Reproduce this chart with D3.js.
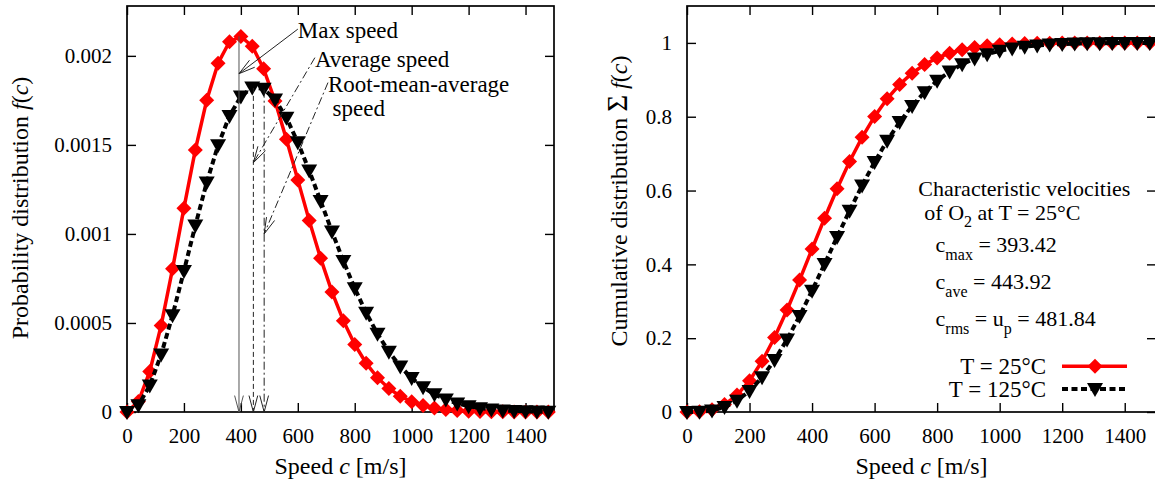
<!DOCTYPE html>
<html>
<head>
<meta charset="utf-8">
<script src="https://cdn.jsdelivr.net/npm/d3@7"></script>
<style>
  html, body { margin: 0; padding: 0; background: #fff; }
  svg { display: block; }
  text { font-family: "Liberation Serif", "DejaVu Serif", serif; fill: #000; }
  .tick text { font-size: 21px; }
</style>
</head>
<body>
<div id="chart"></div>
<script>

// speed samples [m/s]
const speeds = [0, 40, 80, 120, 160, 200, 240, 280, 320, 360, 400, 440, 480, 520, 560, 600, 640, 680, 720, 760,
                800, 840, 880, 920, 960, 1000, 1040, 1080, 1120, 1160, 1200, 1240, 1280, 1320, 1360, 1400, 1440, 1480];

// probability distribution f(c)
const pdf25  = [0, 0.0000587, 0.0002276, 0.0004863, 0.0008041, 0.0011449, 0.0014714, 0.0017510, 0.0019584, 0.0020791,
                0.0021090, 0.0020540, 0.0019272, 0.0017466, 0.0015323, 0.0013035, 0.0010761, 0.0008640, 0.0006745, 0.0005129,
                0.0003797, 0.0002740, 0.0001927, 0.0001324, 0.0000886, 0.0000579, 0.0000370, 0.0000231, 0.0000141, 0.0000084,
                0.0000049, 0.0000028, 0.0000015, 0.0000008, 0.0000004, 0.0000002, 0.0000001, 0.0000000];
const pdf125 = [0, 0.0000381, 0.0001490, 0.0003226, 0.0005432, 0.0007917, 0.0010469, 0.0012886, 0.0014986, 0.0016627,
                0.0017720, 0.0018224, 0.0018150, 0.0017553, 0.0016518, 0.0015148, 0.0013558, 0.0011856, 0.0010136, 0.0008480,
                0.0006950, 0.0005579, 0.0004390, 0.0003385, 0.0002562, 0.0001903, 0.0001387, 0.0000991, 0.0000697, 0.0000481,
                0.0000325, 0.0000217, 0.0000142, 0.0000091, 0.0000058, 0.0000036, 0.0000022, 0.0000013];

// cumulative distribution
const cdf25  = [0, 0.0008, 0.0062, 0.0202, 0.0459, 0.0848, 0.1373, 0.2019, 0.2764, 0.3575,
                0.4416, 0.5250, 0.6049, 0.6785, 0.7442, 0.8009, 0.8485, 0.8872, 0.9179, 0.9415,
                0.9593, 0.9722, 0.9815, 0.9879, 0.9923, 0.9952, 0.9971, 0.9983, 0.9990, 0.9994,
                0.9997, 0.9998, 0.9999, 1.0000, 1.0000, 1.0000, 1.0000, 1.0000];
const cdf125 = [0, 0.0005, 0.0040, 0.0133, 0.0305, 0.0571, 0.0939, 0.1407, 0.1965, 0.2599,
                0.3288, 0.4009, 0.4738, 0.5454, 0.6137, 0.6771, 0.7346, 0.7854, 0.8294, 0.8666,
                0.8974, 0.9224, 0.9423, 0.9578, 0.9696, 0.9785, 0.9850, 0.9897, 0.9931, 0.9954,
                0.9970, 0.9981, 0.9988, 0.9993, 0.9995, 0.9997, 0.9998, 0.9999];

// characteristic velocities of O2 at 25°C
const cMax = 393.42;
const cAve = 443.92;
const cRms = 481.84;

const speedTicks = [0, 200, 400, 600, 800, 1000, 1200, 1400];
const pdfTicks   = [0, 0.0005, 0.001, 0.0015, 0.002];
const cdfTicks   = [0, 0.2, 0.4, 0.6, 0.8, 1];
const speedTickLabels = ["0", "200", "400", "600", "800", "1000", "1200", "1400"];
const pdfTickLabels = ["0", "0.0005", "0.001", "0.0015", "0.002"];
const cdfTickLabels = ["0", "0.2", "0.4", "0.6", "0.8", "1"];

const W = 1155, H = 489;
const RED = "#f00";

const svg = d3.select("#chart").append("svg")
  .attr("width", W)
  .attr("height", H);

// arrow heads (open V)
function arrow(g, x1, y1, x2, y2, dash, color){
  const c = color || "#222";
  g.append("line")
    .attr("x1", x1).attr("y1", y1).attr("x2", x2).attr("y2", y2)
    .attr("stroke", c).attr("stroke-width", 1)
    .attr("stroke-dasharray", dash || null);
  const a = Math.atan2(y2 - y1, x2 - x1), len = 17, spread = 0.26;
  const p = [a - spread, a + spread].map(t => [x2 - len * Math.cos(t), y2 - len * Math.sin(t)]);
  g.append("path")
    .attr("d", "M" + p[0] + "L" + x2 + "," + y2 + "L" + p[1])
    .attr("fill", "none").attr("stroke", c).attr("stroke-width", 1);
}

const diamond  = "M0,-7.5L7.5,0L0,7.5L-7.5,0Z";
const triangle = "M-8,-6L8,-6L0,8Z";

function panel(opts){
  const x = d3.scaleLinear().domain([0, 1500]).range(opts.xRange);
  const y = d3.scaleLinear().domain(opts.yDomain).range([412, 6]);
  const g = svg.append("g");

  // inner ticks on all four sides
  g.append("g").attr("transform", "translate(0,412)")
    .call(d3.axisBottom(x).tickValues(speedTicks).tickSize(-9).tickPadding(16)
      .tickFormat((d, i) => speedTickLabels[i]));
  g.append("g").attr("transform", "translate(0,6)")
    .call(d3.axisTop(x).tickValues(speedTicks).tickSize(-9).tickFormat(""));
  g.append("g").attr("transform", "translate(" + opts.xRange[0] + ",0)")
    .call(d3.axisLeft(y).tickValues(opts.yTicks).tickSize(-9).tickPadding(15)
      .tickFormat((d, i) => opts.yLabels[i]));
  g.append("g").attr("transform", "translate(" + opts.xRange[1] + ",0)")
    .call(d3.axisRight(y).tickValues(opts.yTicks).tickSize(-9).tickFormat(""));
  g.selectAll(".domain").remove();
  g.selectAll(".tick line").attr("stroke-width", 1.4);

  g.append("rect")
    .attr("x", opts.xRange[0]).attr("y", 6)
    .attr("width", opts.xRange[1] - opts.xRange[0]).attr("height", 406)
    .attr("fill", "none").attr("stroke", "#000").attr("stroke-width", 1.7);

  const line = d3.line().x(d => x(d[0])).y(d => y(d[1]));

  // T = 25°C
  const red = speeds.map((s, i) => [s, opts.red[i]]);
  g.append("path").datum(red)
    .attr("d", line).attr("fill", "none")
    .attr("stroke", RED).attr("stroke-width", 3.5);
  g.selectAll(".dia").data(red).join("path")
    .attr("class", "dia")
    .attr("d", diamond).attr("fill", RED)
    .attr("transform", d => "translate(" + x(d[0]) + "," + y(d[1]) + ")");

  // T = 125°C
  const blk = speeds.map((s, i) => [s, opts.black[i]]);
  g.append("path").datum(blk)
    .attr("d", line).attr("fill", "none")
    .attr("stroke", "#000").attr("stroke-width", 4)
    .attr("stroke-dasharray", "6,3.5");
  g.selectAll(".tri").data(blk).join("path")
    .attr("class", "tri")
    .attr("d", triangle).attr("fill", "#000")
    .attr("transform", d => "translate(" + x(d[0]) + "," + y(d[1]) + ")");

  // x label
  const xl = g.append("text")
    .attr("x", (opts.xRange[0] + opts.xRange[1]) / 2).attr("y", 474)
    .attr("text-anchor", "middle").style("font-size", "24px");
  xl.append("tspan").text("Speed ");
  xl.append("tspan").attr("font-style", "italic").text("c");
  xl.append("tspan").text(" [m/s]");

  return {g, x, y};
}

// LEFT: probability distribution
const left = panel({
  xRange: [127, 554], yDomain: [0, 0.00228],
  yTicks: pdfTicks, yLabels: pdfTickLabels,
  red: pdf25, black: pdf125
});

const yl = left.g.append("text")
  .attr("transform", "translate(28,208) rotate(-90)")
  .attr("text-anchor", "middle").style("font-size", "24px");
yl.append("tspan").text("Probability distribution ");
yl.append("tspan").attr("font-style", "italic").text("f");
yl.append("tspan").text("(");
yl.append("tspan").attr("font-style", "italic").text("c");
yl.append("tspan").text(")");

{
  const {g, x, y} = left;
  const ann = g.append("g");
  // vertical markers of the characteristic speeds
  arrow(ann, x(cMax), y(0.00211), x(cMax), y(0), null, "#555");
  arrow(ann, x(cAve), y(0.00182), x(cAve), y(0), "5,3");
  arrow(ann, x(cRms), y(0.00181), x(cRms), y(0), "8,3,2,3");

  // labels pointing at them
  arrow(ann, x(600), y(0.00215), x(cMax), y(0.0019), null);
  arrow(ann, x(660), y(0.00199), x(cAve), y(0.0014), "8,3,2,3");
  arrow(ann, x(706), y(0.00185), x(cRms), y(0.001), "8,3,2,3");

  const lab = (cx, fy, txt) => ann.append("text")
    .attr("x", x(cx)).attr("y", y(fy)).attr("dy", "0.35em")
    .style("font-size", "23px").text(txt);
  lab(600, 0.002146, "Max speed");
  lab(660, 0.00198, "Average speed");
  lab(706, 0.00184, "Root-mean-average");
  lab(722, 0.00171, "speed");
}

// RIGHT: cumulative distribution
const right = panel({
  xRange: [687, 1156], yDomain: [0, 1.1],
  yTicks: cdfTicks, yLabels: cdfTickLabels,
  red: cdf25, black: cdf125
});

const yr = right.g.append("text")
  .attr("transform", "translate(627,201) rotate(-90)")
  .attr("text-anchor", "middle").style("font-size", "24px");
yr.append("tspan").text("Cumulative distribution ");
yr.append("tspan").style("font-size", "29px").text("\u03A3");
yr.append("tspan").text(" ");
yr.append("tspan").attr("font-style", "italic").text("f");
yr.append("tspan").text("(");
yr.append("tspan").attr("font-style", "italic").text("c");
yr.append("tspan").text(")");

{
  const {g, x, y} = right;
  const info = g.append("g").style("font-size", "22px");

  info.append("text").attr("x", x(740)).attr("y", y(0.607)).attr("dy", "0.35em")
    .text("Characteristic velocities");
  const t2 = info.append("text").attr("x", x(759)).attr("y", y(0.540)).attr("dy", "0.35em");
  t2.append("tspan").text("of O");
  t2.append("tspan").attr("dy", 7).style("font-size", "16px").text("2");
  t2.append("tspan").attr("dy", -7).text(" at T = 25°C");

  const sub = (cy, s, rest) => {
    const t = info.append("text").attr("x", x(795)).attr("y", y(cy)).attr("dy", "0.35em");
    t.append("tspan").text("c");
    t.append("tspan").attr("dy", 8).style("font-size", "16px").text(s);
    t.append("tspan").attr("dy", -8).text(rest);
    return t;
  };
  sub(0.454, "max", " = " + cMax.toFixed(2));
  sub(0.353, "ave", " = " + cAve.toFixed(2));
  const t5 = sub(0.253, "rms", " = u");
  t5.append("tspan").attr("dy", 8).style("font-size", "16px").text("p");
  t5.append("tspan").attr("dy", -8).text(" = " + cRms.toFixed(2));

  // legend
  const legend = [
    {label: "T = 25°C",  color: RED,    dash: null,    width: 3.5, shape: diamond,  py: 0.124},
    {label: "T = 125°C", color: "#000", dash: "6,3.5", width: 4,   shape: triangle, py: 0.0625}
  ];
  const lg = info.selectAll(".leg").data(legend).join("g")
    .attr("class", "leg")
    .attr("transform", d => "translate(0," + y(d.py) + ")");
  lg.append("text").attr("x", 1046).attr("dy", "0.35em")
    .attr("text-anchor", "end").style("font-size", "23px").text(d => d.label);
  lg.append("line").attr("x1", 1062).attr("x2", 1127)
    .attr("stroke", d => d.color).attr("stroke-width", d => d.width)
    .attr("stroke-dasharray", d => d.dash);
  lg.append("path").attr("d", d => d.shape).attr("fill", d => d.color)
    .attr("transform", "translate(1095,0)");
}

</script>
</body>
</html>
